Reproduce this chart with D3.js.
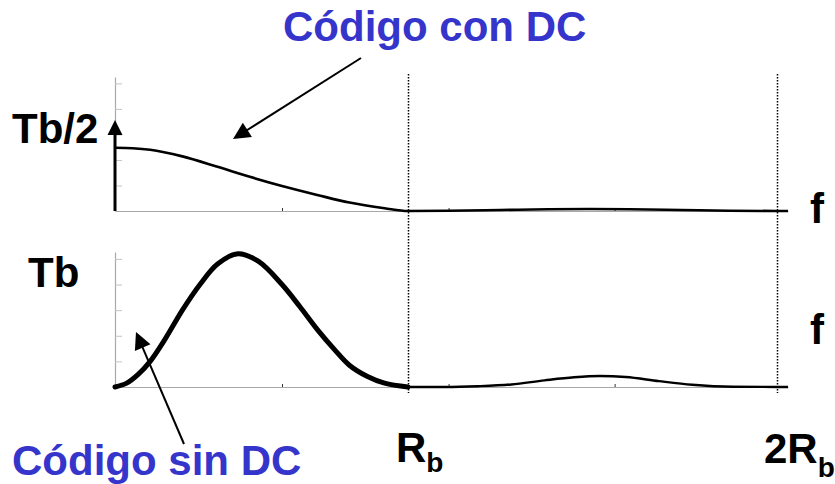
<!DOCTYPE html>
<html><head><meta charset="utf-8">
<script src="https://cdn.jsdelivr.net/npm/d3@7"></script>
<style>
body{margin:0;background:#fff}
svg{display:block}
text{font-family:"Liberation Sans",Arial,Helvetica,sans-serif;font-weight:bold}
</style>
</head><body>
<svg id="c" width="835" height="484"></svg>
<script>
// ---- data (frequency in units of Rb, amplitude in axis-tick units) ----
const freqMarkers = [1, 2];
const xTicks = [0.57, 1.11, 1.56];
const yTicks = [1, 2, 3, 4, 5];

const conDC_f = [0.00, 0.06, 0.12, 0.23, 0.35, 0.46, 0.57, 0.69, 0.80, 0.92, 1.00, 1.11, 1.25, 1.38, 1.49, 1.60, 1.74, 1.87, 2.00, 2.03];
const conDC_v = [2.48, 2.46, 2.40, 2.14, 1.73, 1.34, 0.98, 0.63, 0.33, 0.11, 0.00, 0.01, 0.04, 0.07, 0.08, 0.07, 0.04, 0.01, 0.00, 0.00];

// main lobe (0 .. Rb)
const sinDC_f = [0.00, 0.04, 0.08, 0.12, 0.17, 0.23, 0.29, 0.35, 0.42, 0.49, 0.57, 0.63, 0.69, 0.75, 0.80, 0.86, 0.92, 1.00];
const sinDC_v = [0.00, 0.15, 0.50, 1.00, 1.85, 3.00, 4.00, 4.80, 5.20, 4.90, 4.00, 3.15, 2.25, 1.45, 0.85, 0.42, 0.15, 0.00];
// side lobe (Rb .. 2Rb)
const sinDCside_f = [1.00, 1.10, 1.19, 1.28, 1.37, 1.45, 1.52, 1.59, 1.68, 1.77, 1.88, 2.00, 2.03];
const sinDCside_v = [0.00, 0.00, 0.03, 0.10, 0.26, 0.38, 0.43, 0.39, 0.23, 0.09, 0.01, 0.00, 0.00];

const deltaF = [0];
const deltaV = [3.57];

const titleTop = "Código con DC";
const titleBottom = "Código sin DC";
const yLabelTop = "Tb/2";
const yLabelBottom = "Tb";
const axisLabel = "f";

// ---- scales ----
const svg = d3.select("#c");
const x = d3.scaleLinear().domain([0, 1, 2, 2.03]).range([115, 408, 777, 788]);
const yTop = d3.scaleLinear().domain([0, 5.25]).range([211, 77]);
const yBot = d3.scaleLinear().domain([0, 5.27]).range([387, 252]);

const gray = "#a8a8a8";

function axes(y) {
  const gx = svg.append("g").attr("transform", `translate(0,${y(0)})`)
    .call(d3.axisTop(x).tickValues(xTicks).tickSize(3).tickSizeOuter(0).tickFormat(""));
  gx.select(".domain").attr("stroke", gray).attr("stroke-width", 1.2);
  gx.selectAll(".tick line").attr("stroke", "#333");
  const gy = svg.append("g").attr("transform", `translate(${x(0)},0)`)
    .call(d3.axisRight(y).tickValues(yTicks).tickSize(7).tickSizeOuter(0).tickFormat(""));
  gy.select(".domain").attr("stroke", gray).attr("stroke-width", 1.2);
  gy.selectAll(".tick line").attr("stroke", "#c4c4c4");
}
axes(yTop);
axes(yBot);

// dotted markers
svg.selectAll("line.marker").data(freqMarkers).join("line")
  .attr("class", "marker")
  .attr("x1", d => x(d) + 0.5).attr("x2", d => x(d) + 0.5)
  .attr("y1", 74).attr("y2", 393)
  .attr("stroke", "#000").attr("stroke-width", 1.5)
  .attr("stroke-dasharray", "1.5,1.5");

// curves
const zip = (a, b) => a.map((f, i) => [f, b[i]]);
const lineTop = d3.line().x(d => x(d[0])).y(d => yTop(d[1])).curve(d3.curveMonotoneX);
const lineBot = d3.line().x(d => x(d[0])).y(d => yBot(d[1])).curve(d3.curveCatmullRom.alpha(0.5));
const lineBotSide = d3.line().x(d => x(d[0])).y(d => yBot(d[1])).curve(d3.curveMonotoneX);

svg.append("path").datum(zip(conDC_f, conDC_v))
  .attr("d", lineTop)
  .attr("fill", "none").attr("stroke", "#000").attr("stroke-width", 2.6);
svg.append("path").datum(zip(sinDCside_f, sinDCside_v))
  .attr("d", lineBotSide)
  .attr("fill", "none").attr("stroke", "#000").attr("stroke-width", 2.4);
svg.append("path").datum(zip(sinDC_f, sinDC_v))
  .attr("d", lineBot)
  .attr("fill", "none").attr("stroke", "#000").attr("stroke-width", 5).attr("stroke-linecap", "round");

// delta at DC
deltaF.forEach((f, i) => {
  const xx = x(f), tip = yTop(deltaV[i]);
  svg.append("line").attr("x1", xx).attr("x2", xx).attr("y1", yTop(0)).attr("y2", tip + 14)
    .attr("stroke", "#000").attr("stroke-width", 3);
  svg.append("path").attr("d", `M${xx},${tip}L${xx - 7.5},${tip + 15}L${xx + 7.5},${tip + 15}Z`).attr("fill", "#000");
});

// annotation arrows
function arrow(sx, sy, tx, ty) {
  const dx = tx - sx, dy = ty - sy, L = Math.hypot(dx, dy);
  const ux = dx / L, uy = dy / L, nx = -uy, ny = ux;
  const hl = 17, hw = 8.5;
  const bx = tx - ux * hl, by = ty - uy * hl;
  svg.append("line").attr("x1", sx).attr("y1", sy).attr("x2", bx + ux * 2).attr("y2", by + uy * 2)
    .attr("stroke", "#000").attr("stroke-width", 2);
  svg.append("path").attr("d", `M${tx},${ty}L${bx + nx * hw},${by + ny * hw}L${bx - nx * hw},${by - ny * hw}Z`).attr("fill", "#000");
}
arrow(361, 58, 233, 139);
arrow(184, 444, 136, 332);

// texts
const blue = "#3535cc";
svg.append("text").attr("x", 283).attr("y", 41).attr("font-size", 42).attr("fill", blue).text(titleTop);
svg.append("text").attr("x", 12).attr("y", 475).attr("font-size", 42).attr("fill", blue).text(titleBottom);
svg.append("text").attr("x", 12).attr("y", 143).attr("font-size", 42).attr("fill", "#000").text(yLabelTop);
svg.append("text").attr("x", 28).attr("y", 287).attr("font-size", 42).attr("fill", "#000").text(yLabelBottom);
svg.append("text").attr("x", 810).attr("y", 223).attr("font-size", 42).attr("fill", "#000").text(axisLabel);
svg.append("text").attr("x", 810).attr("y", 344).attr("font-size", 42).attr("fill", "#000").text(axisLabel);

const rb = svg.append("text").attr("x", 396).attr("y", 462).attr("font-size", 42).attr("fill", "#000");
rb.append("tspan").text("R");
rb.append("tspan").attr("font-size", 28).attr("dy", 10).text("b");
const r2 = svg.append("text").attr("x", 764).attr("y", 463).attr("font-size", 42).attr("fill", "#000");
r2.append("tspan").text("2R");
r2.append("tspan").attr("font-size", 28).attr("dy", 14).text("b");
</script>
</body></html>
